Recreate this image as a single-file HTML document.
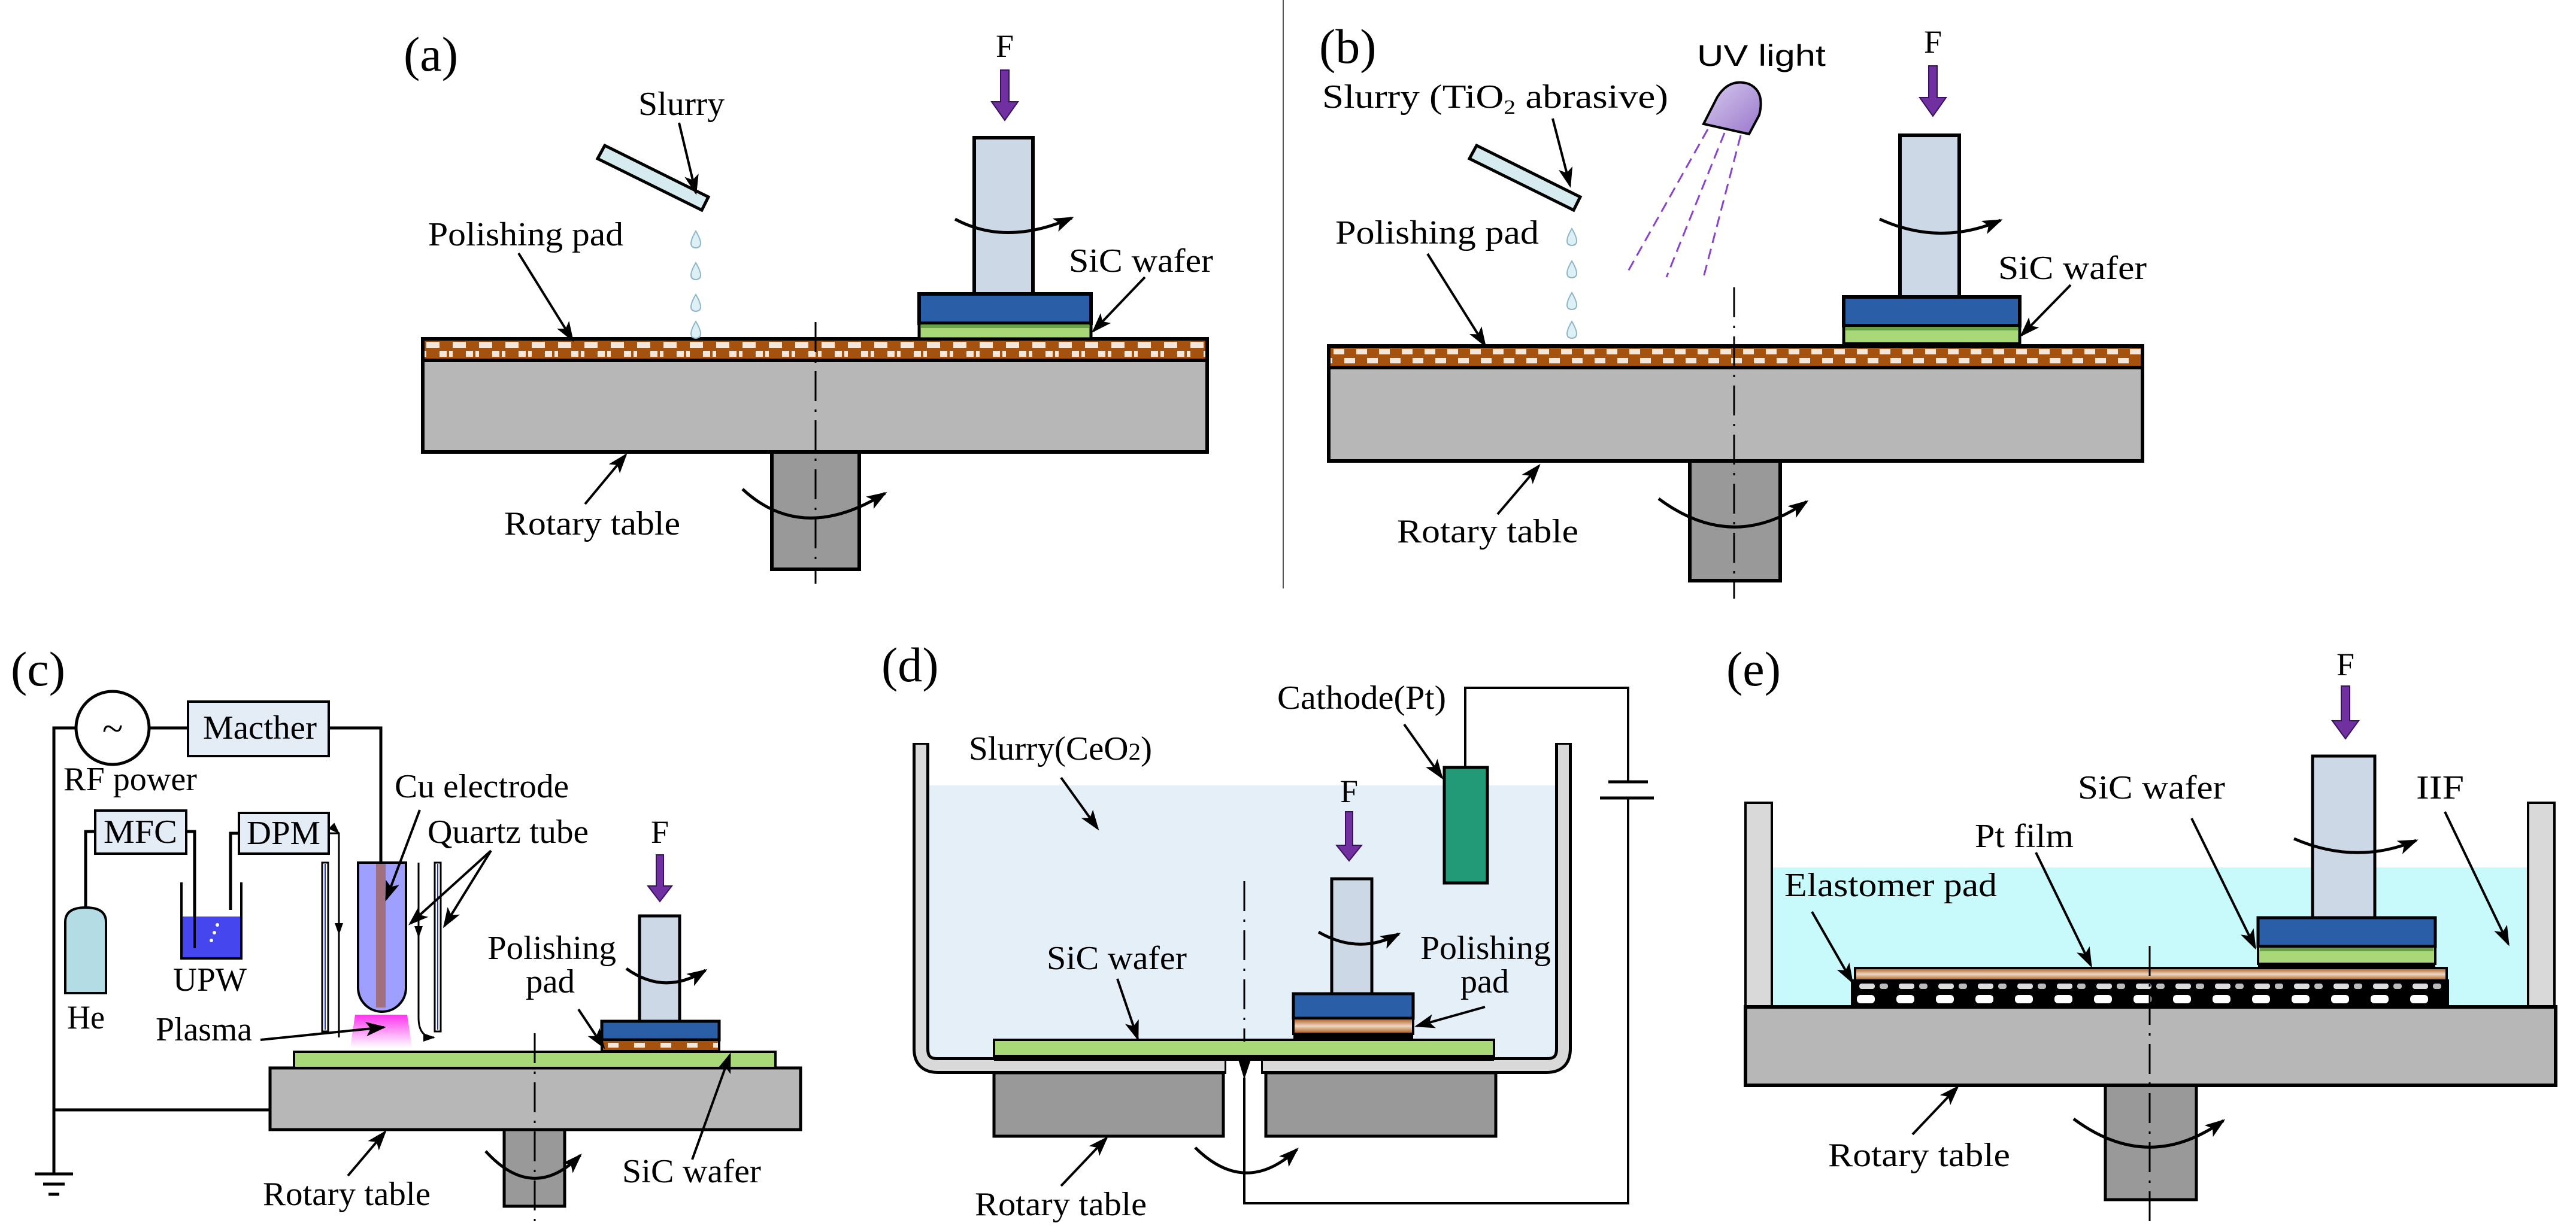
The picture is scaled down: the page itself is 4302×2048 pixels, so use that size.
<!DOCTYPE html>
<html><head><meta charset="utf-8"><style>html,body{margin:0;padding:0;background:#fff}svg{display:block}</style></head><body>
<svg xmlns="http://www.w3.org/2000/svg" width="4302" height="2048" viewBox="0 0 4302 2048" font-family="'Liberation Serif', serif" font-size="56">
<defs>
<marker id="ah" markerUnits="userSpaceOnUse" markerWidth="34" markerHeight="24" refX="30" refY="12" orient="auto"><path d="M0,0 L34,12 L0,24 L8,12 Z" fill="#000"/></marker>
<marker id="sh" markerUnits="userSpaceOnUse" markerWidth="20" markerHeight="14" refX="18" refY="7" orient="auto"><path d="M0,0 L20,7 L0,14 Z" fill="#000"/></marker>
<pattern id="padA" patternUnits="userSpaceOnUse" x="706" y="568" width="44" height="32"><rect width="44" height="32" fill="#a5520f"/><rect x="6" y="3" width="22" height="10" fill="#f5e6da"/><rect x="28" y="18" width="12" height="10" fill="#f5e6da"/><rect x="0" y="18" width="6" height="10" fill="#f5e6da"/></pattern>
<pattern id="padB" patternUnits="userSpaceOnUse" x="2219" y="580" width="38" height="32"><rect width="38" height="32" fill="#a5520f"/><rect x="8" y="3" width="18" height="9" fill="#f5e6da"/><rect x="26" y="18" width="12" height="9" fill="#f5e6da"/><rect x="0" y="18" width="6" height="9" fill="#f5e6da"/></pattern>
<pattern id="padC" patternUnits="userSpaceOnUse" x="1005" y="1737" width="44" height="18"><rect width="44" height="18" fill="#a5520f"/><rect x="10" y="5" width="18" height="8" fill="#f5e6da"/></pattern>
<pattern id="elast" patternUnits="userSpaceOnUse" x="3093" y="1638" width="66" height="44"><rect width="66" height="44" fill="#000"/><rect x="12" y="5" width="26" height="9" rx="4" fill="#ddd"/><rect x="8" y="24" width="30" height="14" rx="6" fill="#fff"/><rect x="46" y="5" width="14" height="9" rx="4" fill="#bbb"/></pattern>
<linearGradient id="plasma" x1="0" y1="0" x2="0" y2="1"><stop offset="0" stop-color="#ff33ee"/><stop offset="1" stop-color="#ffffff"/></linearGradient>
<linearGradient id="uv" x1="0" y1="0" x2="1" y2="1"><stop offset="0" stop-color="#d8ccee"/><stop offset="1" stop-color="#9a77cc"/></linearGradient>
<linearGradient id="dpad" x1="0" y1="0" x2="0" y2="1"><stop offset="0" stop-color="#a5520f"/><stop offset="0.5" stop-color="#f0d8c4"/><stop offset="1" stop-color="#a5520f"/></linearGradient>
<g id="drop"><path d="M0,-16 Q12,4 6,10 Q0,14 -6,10 Q-12,4 0,-16 Z" fill="#dcf0f6" stroke="#8fb5c5" stroke-width="2"/></g>
</defs>

<!-- separator -->
<line x1="2143" y1="0" x2="2143" y2="983" stroke="#555" stroke-width="2"/>

<!-- ============ (a) ============ -->
<text x="674" y="118" font-size="82">(a)</text>
<rect x="1289" y="755" width="146" height="196" fill="#999" stroke="#000" stroke-width="6"/>
<rect x="706" y="602" width="1310" height="153" fill="#b7b7b7" stroke="#000" stroke-width="6"/>
<rect x="706" y="566" width="1310" height="36" fill="url(#padA)" stroke="#000" stroke-width="6"/>
<line x1="1362" y1="538" x2="1362" y2="975" stroke="#000" stroke-width="3" stroke-dasharray="50,14,4,14"/>
<rect x="1627" y="230" width="98" height="261" fill="#ccd8e6" stroke="#000" stroke-width="6"/>
<rect x="1535" y="491" width="287" height="49" fill="#2a5ea6" stroke="#000" stroke-width="6"/>
<rect x="1535" y="540" width="287" height="26" fill="#a8d878" stroke="#000" stroke-width="5"/>
<line x1="1538" y1="545" x2="1819" y2="545" stroke="#6aa04a" stroke-width="6"/>
<polygon points="1671,117 1685,117 1685,170 1700,170 1678,201 1656,170 1671,170" fill="#7030a0" stroke="#3a1060" stroke-width="2"/>
<text x="1678" y="95" text-anchor="middle" font-size="54">F</text>
<path d="M1595,366 Q1680,412 1790,364" fill="none" stroke="#000" stroke-width="5" marker-end="url(#ah)"/>
<path d="M1240,817 Q1340,910 1478,824" fill="none" stroke="#000" stroke-width="5" marker-end="url(#ah)"/>
<polygon points="998,265 1010,243 1183,329 1172,351" fill="#d5ebf0" stroke="#000" stroke-width="5"/>
<use href="#drop" x="1162" y="402"/><use href="#drop" x="1162" y="455"/><use href="#drop" x="1162" y="508"/><use href="#drop" x="1162" y="553"/>
<text x="1066" y="192" textLength="144" lengthAdjust="spacingAndGlyphs">Slurry</text>
<line x1="1134" y1="205" x2="1162" y2="322" stroke="#000" stroke-width="4" marker-end="url(#ah)"/>
<text x="715" y="410" textLength="326" lengthAdjust="spacingAndGlyphs">Polishing pad</text>
<line x1="866" y1="423" x2="956" y2="568" stroke="#000" stroke-width="4" marker-end="url(#ah)"/>
<text x="1785" y="454" textLength="241" lengthAdjust="spacingAndGlyphs">SiC wafer</text>
<line x1="1912" y1="463" x2="1826" y2="553" stroke="#000" stroke-width="4" marker-end="url(#ah)"/>
<text x="842" y="893" textLength="294" lengthAdjust="spacingAndGlyphs">Rotary table</text>
<line x1="977" y1="842" x2="1045" y2="760" stroke="#000" stroke-width="4" marker-end="url(#ah)"/>

<!-- ============ (b) ============ -->
<text x="2203" y="105" font-size="82">(b)</text>
<rect x="2822" y="770" width="151" height="200" fill="#999" stroke="#000" stroke-width="6"/>
<rect x="2219" y="614" width="1359" height="156" fill="#b7b7b7" stroke="#000" stroke-width="6"/>
<rect x="2219" y="578" width="1359" height="36" fill="url(#padB)" stroke="#000" stroke-width="6"/>
<line x1="2896" y1="480" x2="2896" y2="1000" stroke="#000" stroke-width="3" stroke-dasharray="50,14,4,14"/>
<rect x="3173" y="226" width="99" height="270" fill="#ccd8e6" stroke="#000" stroke-width="6"/>
<rect x="3079" y="496" width="294" height="48" fill="#2a5ea6" stroke="#000" stroke-width="6"/>
<rect x="3079" y="544" width="294" height="30" fill="#a8d878" stroke="#000" stroke-width="5"/>
<line x1="3082" y1="549" x2="3370" y2="549" stroke="#6aa04a" stroke-width="6"/>
<polygon points="3221,110 3235,110 3235,163 3250,163 3228,194 3206,163 3221,163" fill="#7030a0" stroke="#3a1060" stroke-width="2"/>
<text x="3228" y="88" text-anchor="middle" font-size="54">F</text>
<path d="M3139,366 Q3240,412 3341,368" fill="none" stroke="#000" stroke-width="5" marker-end="url(#ah)"/>
<path d="M2770,833 Q2893,925 3017,838" fill="none" stroke="#000" stroke-width="5" marker-end="url(#ah)"/>
<polygon points="2454,265 2466,243 2639,329 2628,351" fill="#d5ebf0" stroke="#000" stroke-width="5"/>
<use href="#drop" x="2625" y="398"/><use href="#drop" x="2625" y="452"/><use href="#drop" x="2625" y="505"/><use href="#drop" x="2625" y="553"/>
<path d="M2845,207 L2868,162 Q2888,130 2920,140 Q2948,152 2938,192 L2921,224 Z" fill="url(#uv)" stroke="#000" stroke-width="4"/>
<g stroke="#8844cc" stroke-width="3" stroke-dasharray="18,10"><line x1="2852" y1="216" x2="2715" y2="460"/><line x1="2880" y1="222" x2="2783" y2="463"/><line x1="2907" y1="226" x2="2845" y2="463"/></g>
<text x="2834" y="110" font-family="'Liberation Sans', sans-serif" textLength="215" lengthAdjust="spacingAndGlyphs" font-size="50">UV light</text>
<text x="2208" y="180" textLength="578" lengthAdjust="spacingAndGlyphs">Slurry (TiO<tspan font-size="34" dy="10">2</tspan><tspan dy="-10">  abrasive)</tspan></text>
<line x1="2593" y1="198" x2="2622" y2="310" stroke="#000" stroke-width="4" marker-end="url(#ah)"/>
<text x="2230" y="407" textLength="340" lengthAdjust="spacingAndGlyphs">Polishing pad</text>
<line x1="2384" y1="424" x2="2480" y2="577" stroke="#000" stroke-width="4" marker-end="url(#ah)"/>
<text x="3337" y="466" textLength="248" lengthAdjust="spacingAndGlyphs">SiC wafer</text>
<line x1="3458" y1="476" x2="3376" y2="560" stroke="#000" stroke-width="4" marker-end="url(#ah)"/>
<text x="2333" y="906" textLength="303" lengthAdjust="spacingAndGlyphs">Rotary table</text>
<line x1="2501" y1="859" x2="2570" y2="778" stroke="#000" stroke-width="4" marker-end="url(#ah)"/>

<!-- ============ (c) ============ -->
<text x="18" y="1145" font-size="82">(c)</text>
<g fill="none" stroke="#000" stroke-width="5">
<polyline points="127,1216 90,1216 90,1961"/>
<line x1="90" y1="1854" x2="451" y2="1854"/>
<line x1="249" y1="1216" x2="314" y2="1216"/>
<polyline points="549,1216 636,1216 636,1443"/>
<polyline points="159,1389 143,1389 143,1520"/>
<polyline points="311,1389 325,1389 325,1584"/>
<polyline points="399,1392 385,1392 385,1520"/>
</g>
<g stroke="#000" stroke-width="5"><line x1="58" y1="1961" x2="122" y2="1961"/><line x1="72" y1="1978" x2="108" y2="1978"/><line x1="81" y1="1995" x2="99" y2="1995"/></g>
<circle cx="188" cy="1216" r="61" fill="#fff" stroke="#000" stroke-width="5"/>
<text x="188" y="1238" text-anchor="middle" font-size="64">~</text>
<rect x="314" y="1172" width="235" height="91" fill="#e4ecf6" stroke="#000" stroke-width="4"/>
<text x="339" y="1234" textLength="190" lengthAdjust="spacingAndGlyphs">Macther</text>
<text x="106" y="1320" textLength="223" lengthAdjust="spacingAndGlyphs">RF power</text>
<rect x="159" y="1354" width="152" height="72" fill="#e4ecf6" stroke="#000" stroke-width="4"/>
<text x="173" y="1408" textLength="123" lengthAdjust="spacingAndGlyphs">MFC</text>
<rect x="399" y="1358" width="150" height="68" fill="#e4ecf6" stroke="#000" stroke-width="4"/>
<text x="412" y="1410" textLength="123" lengthAdjust="spacingAndGlyphs">DPM</text>
<polyline points="549,1392 566,1392 566,1733" fill="none" stroke="#000" stroke-width="3" marker-mid="url(#sh)"/>
<line x1="566" y1="1520" x2="566" y2="1560" stroke="#000" stroke-width="3" marker-end="url(#sh)"/>
<path d="M109,1659 V1540 Q109,1516 143,1516 Q177,1516 177,1540 V1659 Z" fill="#b4dce4" stroke="#000" stroke-width="4"/>
<rect x="303" y="1531" width="100" height="70" fill="#4646ee"/>
<path d="M303,1474 V1601 H403 V1474" fill="none" stroke="#000" stroke-width="4"/>
<line x1="325" y1="1520" x2="325" y2="1584" stroke="#000" stroke-width="4"/>
<circle cx="363" cy="1545" r="3" fill="#fff"/><circle cx="358" cy="1558" r="3" fill="#fff"/><circle cx="353" cy="1571" r="3" fill="#fff"/>
<text x="289" y="1655" textLength="123" lengthAdjust="spacingAndGlyphs">UPW</text>
<text x="112" y="1718" textLength="63" lengthAdjust="spacingAndGlyphs">He</text>
<rect x="538" y="1441" width="10" height="282" fill="#fff" stroke="#000" stroke-width="3"/>
<line x1="543" y1="1443" x2="543" y2="1720" stroke="#2233aa" stroke-width="2"/>
<rect x="726" y="1441" width="10" height="282" fill="#fff" stroke="#000" stroke-width="3"/>
<line x1="731" y1="1443" x2="731" y2="1720" stroke="#2233aa" stroke-width="2"/>
<path d="M699,1441 V1700 Q699,1733 725,1733" fill="none" stroke="#000" stroke-width="3" marker-end="url(#sh)"/>
<line x1="699" y1="1520" x2="699" y2="1565" stroke="#000" stroke-width="3" marker-end="url(#sh)"/>
<polygon points="593,1695 680,1695 688,1750 585,1750" fill="url(#plasma)"/>
<path d="M598,1441 V1650 A40,40 0 0 0 678,1650 V1441 Z" fill="#9f9fff" stroke="#000" stroke-width="4"/>
<rect x="628" y="1443" width="16" height="240" fill="#a0707f"/>
<text x="260" y="1738" textLength="161" lengthAdjust="spacingAndGlyphs">Plasma</text>
<line x1="435" y1="1737" x2="641" y2="1716" stroke="#000" stroke-width="4" marker-end="url(#ah)"/>
<text x="659" y="1332" textLength="291" lengthAdjust="spacingAndGlyphs">Cu electrode</text>
<line x1="701" y1="1353" x2="645" y2="1502" stroke="#000" stroke-width="4" marker-end="url(#ah)"/>
<text x="714" y="1408" textLength="269" lengthAdjust="spacingAndGlyphs">Quartz tube</text>
<line x1="820" y1="1421" x2="685" y2="1543" stroke="#000" stroke-width="4" marker-end="url(#ah)"/>
<line x1="820" y1="1421" x2="742" y2="1547" stroke="#000" stroke-width="4" marker-end="url(#ah)"/>
<rect x="842" y="1885" width="101" height="130" fill="#999" stroke="#000" stroke-width="5"/>
<rect x="451" y="1784" width="886" height="103" fill="#b7b7b7" stroke="#000" stroke-width="5"/>
<rect x="491" y="1757" width="804" height="27" fill="#a8d878" stroke="#000" stroke-width="4"/>
<line x1="893" y1="1726" x2="893" y2="2048" stroke="#000" stroke-width="3" stroke-dasharray="50,14,4,14"/>
<rect x="1068" y="1530" width="67" height="176" fill="#ccd8e6" stroke="#000" stroke-width="5"/>
<rect x="1005" y="1706" width="196" height="31" fill="#2a5ea6" stroke="#000" stroke-width="5"/>
<rect x="1005" y="1737" width="196" height="19" fill="url(#padC)" stroke="#000" stroke-width="4"/>
<polygon points="1096,1428 1108,1428 1108,1480 1122,1480 1102,1506 1082,1480 1096,1480" fill="#7030a0" stroke="#3a1060" stroke-width="2"/>
<text x="1102" y="1408" text-anchor="middle" font-size="54">F</text>
<path d="M1046,1618 Q1110,1664 1178,1621" fill="none" stroke="#000" stroke-width="5" marker-end="url(#ah)"/>
<path d="M811,1923 Q890,2010 969,1930" fill="none" stroke="#000" stroke-width="5" marker-end="url(#ah)"/>
<text x="814" y="1602" textLength="215" lengthAdjust="spacingAndGlyphs">Polishing</text>
<text x="878" y="1658" textLength="82" lengthAdjust="spacingAndGlyphs">pad</text>
<line x1="966" y1="1686" x2="1008" y2="1749" stroke="#000" stroke-width="4" marker-end="url(#ah)"/>
<text x="1039" y="1975" textLength="232" lengthAdjust="spacingAndGlyphs">SiC wafer</text>
<line x1="1156" y1="1937" x2="1219" y2="1762" stroke="#000" stroke-width="4" marker-end="url(#ah)"/>
<text x="439" y="2013" textLength="280" lengthAdjust="spacingAndGlyphs">Rotary table</text>
<line x1="581" y1="1964" x2="643" y2="1891" stroke="#000" stroke-width="4" marker-end="url(#ah)"/>

<!-- ============ (d) ============ -->
<text x="1472" y="1138" font-size="82">(d)</text>
<rect x="1551" y="1312" width="1048" height="459" fill="#e4eff8"/>
<g fill="none" stroke-linejoin="round">
<path d="M1538,1241 V1752 Q1538,1780 1566,1780 H2048" stroke="#000" stroke-width="28"/>
<path d="M2106,1780 H2583 Q2611,1780 2611,1752 V1241" stroke="#000" stroke-width="28"/>
<path d="M1538,1244 V1752 Q1538,1780 1566,1780 H2045" stroke="#d9d9d9" stroke-width="18"/>
<path d="M2109,1780 H2583 Q2611,1780 2611,1752 V1244" stroke="#d9d9d9" stroke-width="18"/>
</g>
<rect x="1660" y="1792" width="383" height="106" fill="#999" stroke="#000" stroke-width="5"/>
<rect x="2114" y="1792" width="384" height="106" fill="#999" stroke="#000" stroke-width="5"/>
<rect x="1660" y="1764" width="835" height="8" fill="#000"/>
<rect x="1660" y="1737" width="835" height="27" fill="#a8d878" stroke="#000" stroke-width="4"/>
<polygon points="2067,1767 2090,1767 2078,1803" fill="#000"/>
<line x1="2078" y1="1472" x2="2078" y2="1740" stroke="#000" stroke-width="3" stroke-dasharray="50,14,4,14"/>
<polyline points="2078,1800 2078,2010 2719,2010 2719,1333" fill="none" stroke="#000" stroke-width="4"/>
<polyline points="2719,1306 2719,1149 2447,1149 2447,1282" fill="none" stroke="#000" stroke-width="4"/>
<line x1="2686" y1="1306" x2="2752" y2="1306" stroke="#000" stroke-width="5"/>
<line x1="2672" y1="1333" x2="2762" y2="1333" stroke="#000" stroke-width="5"/>
<rect x="2412" y="1282" width="72" height="193" fill="#229977" stroke="#000" stroke-width="5"/>
<rect x="2224" y="1468" width="67" height="192" fill="#ccd8e6" stroke="#000" stroke-width="5"/>
<rect x="2160" y="1660" width="200" height="41" fill="#2a5ea6" stroke="#000" stroke-width="5"/>
<rect x="2160" y="1701" width="200" height="26" fill="url(#dpad)" stroke="#000" stroke-width="4"/>
<rect x="2160" y="1727" width="200" height="10" fill="#000"/>
<polygon points="2247,1356 2259,1356 2259,1412 2274,1412 2253,1438 2232,1412 2247,1412" fill="#7030a0" stroke="#3a1060" stroke-width="2"/>
<text x="2253" y="1340" text-anchor="middle" font-size="54">F</text>
<path d="M2202,1557 Q2270,1596 2336,1560" fill="none" stroke="#000" stroke-width="5" marker-end="url(#ah)"/>
<path d="M1996,1917 Q2080,2000 2166,1920" fill="none" stroke="#000" stroke-width="5" marker-end="url(#ah)"/>
<text x="2133" y="1184" textLength="282" lengthAdjust="spacingAndGlyphs">Cathode(Pt)</text>
<line x1="2345" y1="1210" x2="2408" y2="1299" stroke="#000" stroke-width="4" marker-end="url(#ah)"/>
<text x="1618" y="1269" textLength="306" lengthAdjust="spacingAndGlyphs">Slurry(CeO<tspan font-size="40">2</tspan>)</text>
<line x1="1772" y1="1299" x2="1833" y2="1384" stroke="#000" stroke-width="4" marker-end="url(#ah)"/>
<text x="1748" y="1619" textLength="234" lengthAdjust="spacingAndGlyphs">SiC wafer</text>
<line x1="1866" y1="1635" x2="1900" y2="1735" stroke="#000" stroke-width="4" marker-end="url(#ah)"/>
<text x="2372" y="1602" textLength="218" lengthAdjust="spacingAndGlyphs">Polishing</text>
<text x="2439" y="1658" textLength="81" lengthAdjust="spacingAndGlyphs">pad</text>
<line x1="2480" y1="1682" x2="2366" y2="1714" stroke="#000" stroke-width="4" marker-end="url(#ah)"/>
<text x="1628" y="2030" textLength="287" lengthAdjust="spacingAndGlyphs">Rotary table</text>
<line x1="1772" y1="1981" x2="1848" y2="1901" stroke="#000" stroke-width="4" marker-end="url(#ah)"/>

<!-- ============ (e) ============ -->
<text x="2883" y="1145" font-size="82">(e)</text>
<rect x="2959" y="1449" width="1263" height="233" fill="#c8fafc"/>
<rect x="2915" y="1341" width="44" height="341" fill="#d9d9d9" stroke="#000" stroke-width="4"/>
<rect x="4222" y="1341" width="44" height="341" fill="#d9d9d9" stroke="#000" stroke-width="4"/>
<rect x="3516" y="1811" width="152" height="193" fill="#999" stroke="#000" stroke-width="5"/>
<rect x="2915" y="1682" width="1353" height="131" fill="#b7b7b7" stroke="#000" stroke-width="6"/>
<rect x="3093" y="1638" width="995" height="44" fill="url(#elast)" stroke="#000" stroke-width="4"/>
<rect x="3098" y="1617" width="988" height="21" fill="url(#dpad)" stroke="#000" stroke-width="4"/>
<line x1="3590" y1="1580" x2="3590" y2="2048" stroke="#000" stroke-width="3" stroke-dasharray="50,14,4,14"/>
<rect x="3862" y="1263" width="104" height="270" fill="#ccd8e6" stroke="#000" stroke-width="5"/>
<rect x="3771" y="1533" width="296" height="48" fill="#2a5ea6" stroke="#000" stroke-width="5"/>
<rect x="3771" y="1581" width="296" height="29" fill="#a8d878" stroke="#000" stroke-width="4"/>
<line x1="3774" y1="1586" x2="4064" y2="1586" stroke="#6aa04a" stroke-width="6"/>
<rect x="3771" y="1610" width="296" height="7" fill="#000"/>
<polygon points="3910,1146 3924,1146 3924,1204 3939,1204 3917,1234 3895,1204 3910,1204" fill="#7030a0" stroke="#3a1060" stroke-width="2"/>
<text x="3917" y="1128" text-anchor="middle" font-size="54">F</text>
<path d="M3831,1401 Q3935,1446 4035,1404" fill="none" stroke="#000" stroke-width="5" marker-end="url(#ah)"/>
<path d="M3463,1869 Q3588,1962 3713,1872" fill="none" stroke="#000" stroke-width="5" marker-end="url(#ah)"/>
<text x="3470" y="1334" textLength="246" lengthAdjust="spacingAndGlyphs">SiC wafer</text>
<line x1="3660" y1="1367" x2="3766" y2="1583" stroke="#000" stroke-width="4" marker-end="url(#ah)"/>
<text x="4035" y="1334" textLength="80" lengthAdjust="spacingAndGlyphs">IIF</text>
<line x1="4083" y1="1356" x2="4189" y2="1577" stroke="#000" stroke-width="4" marker-end="url(#ah)"/>
<text x="3298" y="1415" textLength="165" lengthAdjust="spacingAndGlyphs">Pt film</text>
<line x1="3400" y1="1424" x2="3492" y2="1613" stroke="#000" stroke-width="4" marker-end="url(#ah)"/>
<text x="2980" y="1497" textLength="355" lengthAdjust="spacingAndGlyphs">Elastomer pad</text>
<line x1="3026" y1="1523" x2="3093" y2="1640" stroke="#000" stroke-width="4" marker-end="url(#ah)"/>
<text x="3053" y="1948" textLength="304" lengthAdjust="spacingAndGlyphs">Rotary table</text>
<line x1="3194" y1="1895" x2="3269" y2="1816" stroke="#000" stroke-width="4" marker-end="url(#ah)"/>
</svg>
</body></html>
